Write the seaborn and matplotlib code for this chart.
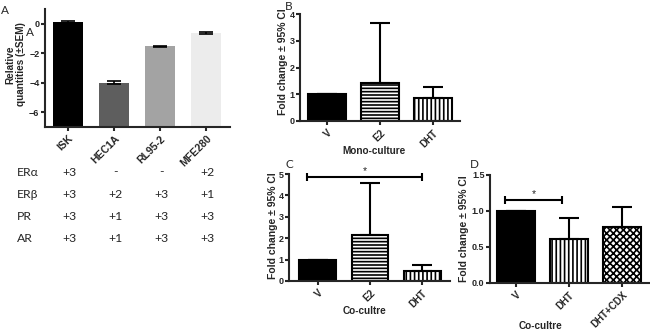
import matplotlib
matplotlib.use("Agg")
import matplotlib.pyplot as plt
import matplotlib.transforms as mtransforms
import seaborn as sns
import pandas as pd
import numpy as np

# ---------------- data ----------------
# Panel A: relative receptor quantities per cell line
a_lines = ["ISK", "HEC1A", "RL95-2", "MFE280"]
a_values = [0.12, -4.0, -1.52, -0.64]
a_sem = [0.05, 0.12, 0.04, 0.06]
a_colors = ["#000000", "#5e5e5e", "#a3a3a3", "#ececec"]
a_base = -7

receptors = ["ERα", "ERβ", "PR", "AR"]
receptor_scores = [
    ["+3", "-", "-", "+2"],
    ["+3", "+2", "+3", "+1"],
    ["+3", "+1", "+3", "+3"],
    ["+3", "+1", "+3", "+3"],
]

# Panel B: mono-culture
b_treat = ["V", "E2", "DHT"]
b_fold = [1.0, 1.42, 0.86]
b_ci_upper = [1.0, 3.65, 1.26]

# Panel C: co-culture
c_treat = ["V", "E2", "DHT"]
c_fold = [1.0, 2.16, 0.48]
c_ci_upper = [1.0, 4.6, 0.76]
c_sig = (-0.2, 2.0, 4.85)

# Panel D: co-culture
d_treat = ["V", "DHT", "DHT+CDX"]
d_fold = [1.0, 0.61, 0.78]
d_ci_upper = [1.0, 0.9, 1.05]
d_sig = (-0.2, 0.87, 1.15)

hatch_map = {"V": "solid", "E2": "-----", "DHT": "||||", "DHT+CDX": "xxxxx"}

# ---------------- style ----------------
sns.set_style("ticks")
plt.rcParams["font.family"] = ["Liberation Sans", "DejaVu Sans"]
plt.rcParams["font.weight"] = "bold"
plt.rcParams["axes.labelweight"] = "bold"
plt.rcParams["hatch.linewidth"] = 1.2
plt.rcParams["axes.linewidth"] = 1.5

TEXT_FONT = ["Lato", "DejaVu Sans"]

fig = plt.figure(figsize=(6.5, 3.3), dpi=100)
W, H = 650, 330


def px_axes(l, r, t, b):
    return fig.add_axes([l / W, 1 - b / H, (r - l) / W, (b - t) / H])


axA = px_axes(45, 230, 9.3, 126.7)
axB = px_axes(300, 460, 14, 121)
axC = px_axes(289, 450, 174, 281)
axD = px_axes(490, 649, 175, 283)


def style_axis(ax, xlabelsize=7):
    sns.despine(ax=ax)
    ax.tick_params(direction="out", length=3, width=1.5, labelsize=6.5, pad=1)
    ax.tick_params(axis="x", labelsize=xlabelsize, pad=2)
    for lab in ax.get_xticklabels():
        lab.set_rotation(45)
        lab.set_ha("right")
        lab.set_rotation_mode("anchor")
        lab.set_fontweight("bold")
    for lab in ax.get_yticklabels():
        lab.set_fontweight("bold")


# ---------------- Panel A ----------------
dfA = pd.DataFrame({"line": a_lines, "value": a_values})
sns.barplot(data=dfA, x="line", y="value", hue="line", hue_order=a_lines,
            order=a_lines, palette=a_colors, width=0.66, errorbar=None,
            legend=False, saturation=1, edgecolor="none", ax=axA)
for p, v in zip(axA.patches, a_values):
    p.set_y(a_base)
    p.set_height(v - a_base)
axA.errorbar(range(len(a_lines)), a_values, yerr=a_sem, fmt="none",
             ecolor="black", elinewidth=1.2, capsize=5, capthick=1.2)
axA.set_ylim(a_base, 1)
axA.set_yticks([0, -2, -4, -6])
axA.set_xlim(-0.5, 3.52)
axA.set_xlabel("")
axA.set_ylabel("Relative\nquantities (\u00b1SEM)", fontsize=7.2, linespacing=1.1)
axA.yaxis.set_label_coords(-0.1, 0.53)
style_axis(axA, xlabelsize=7.5)

# receptor table under panel A, aligned to the cell-line columns
trans = mtransforms.blended_transform_factory(axA.transData, fig.transFigure)
row_y = [172, 194, 216, 238]
for r, (rec, scores) in enumerate(zip(receptors, receptor_scores)):
    fig.text(17 / W, 1 - row_y[r] / H, rec, family=TEXT_FONT, fontweight="normal",
             fontsize=8.8, ha="left", va="center")
    for i, s in enumerate(scores):
        fig.text(i + 0.04, 1 - row_y[r] / H, s, transform=trans, family=TEXT_FONT,
                 fontweight="normal", fontsize=8.8, ha="center", va="center")


# ---------------- Panels B-D ----------------
def fold_panel(ax, treat, fold, upper, ylim, yticks, fmt, xlabel):
    df = pd.DataFrame({"treatment": treat, "fold": fold})
    sns.barplot(data=df, x="treatment", y="fold", order=treat, color="white",
                width=0.7, errorbar=None, saturation=1, edgecolor="black",
                linewidth=1.5, ax=ax)
    for p, t in zip(ax.patches, treat):
        h = hatch_map[t]
        if h == "solid":
            p.set_facecolor("black")
        else:
            p.set_facecolor("white")
            p.set_hatch(h)
    up = np.array(upper) - np.array(fold)
    ax.errorbar(range(len(treat)), fold, yerr=[np.zeros(len(fold)), up],
                fmt="none", ecolor="black", elinewidth=1.5, capsize=7,
                capthick=1.5, zorder=3)
    ax.set_ylim(*ylim)
    ax.set_yticks(yticks)
    ax.set_yticklabels([fmt.format(v) for v in yticks])
    ax.set_xlabel(xlabel, fontsize=7.2)
    ax.set_ylabel("Fold change \u00b1 95% CI", fontsize=7.5)
    style_axis(ax)


def sig_bar(ax, sig):
    x0, x1, y = sig
    ax.plot([x0, x1], [y, y], color="black", lw=1.5, marker="|", markersize=6,
            mew=1.5, clip_on=False, zorder=4)
    ax.annotate("*", xy=((x0 + x1) / 2, y), xytext=(0, 0.5),
                textcoords="offset points", ha="center", va="bottom",
                fontsize=7.5, fontweight="normal")


fold_panel(axB, b_treat, b_fold, b_ci_upper, (0, 4), [0, 1, 2, 3, 4], "{:g}",
           "Mono-culture")
axB.set_xlim(-0.51, 2.51)
axB.xaxis.set_label_coords(0.46, -0.23)
axB.yaxis.set_label_coords(-0.075, 0.55)

fold_panel(axC, c_treat, c_fold, c_ci_upper, (0, 5), [0, 1, 2, 3, 4, 5], "{:g}",
           "Co-cultre")
axC.set_xlim(-0.55, 2.53)
axC.xaxis.set_label_coords(0.47, -0.23)
axC.yaxis.set_label_coords(-0.07, 0.52)
sig_bar(axC, c_sig)

fold_panel(axD, d_treat, d_fold, d_ci_upper, (0, 1.5), [0, 0.5, 1.0, 1.5], "{:.1f}",
           "Co-cultre")
axD.set_xlim(-0.49, 2.51)
axD.xaxis.set_label_coords(0.32, -0.35)
axD.yaxis.set_label_coords(-0.13, 0.5)
sig_bar(axD, d_sig)

# ---------------- panel letters ----------------
for letter, x, y in [("A", 5, 10), ("A", 30, 33), ("B", 289, 6),
                     ("C", 289, 165), ("D", 474, 165)]:
    fig.text(x / W, 1 - y / H, letter, family=TEXT_FONT, fontweight="normal",
             fontsize=8.5, ha="center", va="center")

fig.savefig("out.png", dpi=100)
